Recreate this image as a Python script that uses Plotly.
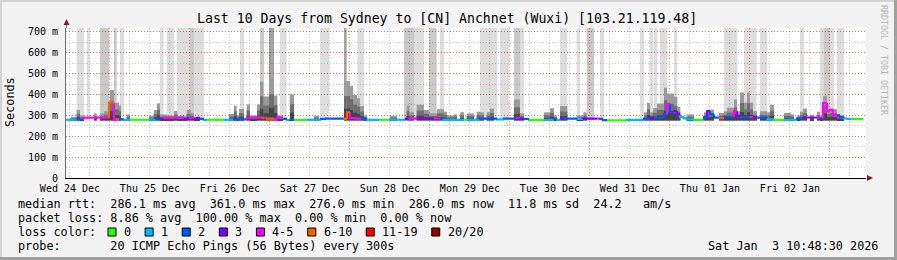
import plotly.graph_objects as go
import pandas as pd

START = pd.Timestamp("2025-12-24 10:48:30")
END = pd.Timestamp("2026-01-03 10:48:30")
Y_MAX = 719
SMOKE_BASE = 276

# ---- data (hours since START) ----
# loss spans drawn as full-height shading: start, end, shade (0 light, 1 mid, 2 dark)
loss_start = [3.2, 6.3, 10.2, 14.4, 16.2, 28.2, 30.2, 33.2, 37.2, 38.4, 52.2, 58.2, 60.9, 64.2, 76.2,
              83.4, 87.4, 101.4, 104.4, 108.9, 112.2, 124.2, 130.2, 134.4, 136.2, 148.2, 153.2, 156.2,
              160.2, 172.2, 175.2, 176.4, 178.2, 182.4, 197.4, 203.4, 208.2, 220.2, 226.2, 227.4,
              229.2, 231.2]
loss_end = [5.4, 7.1, 12.9, 15.2, 17.4, 29.3, 32.4, 37.2, 38.4, 41.4, 53.4, 59.4, 62.4, 66.2, 78.9,
            84.2, 89.4, 104.4, 107.4, 111.2, 113.4, 129.4, 132.9, 136.2, 137.4, 150.4, 154.2, 158.4,
            161.4, 173.4, 176.2, 177.4, 180.4, 183.4, 201.4, 207.2, 210.4, 221.4, 227.4, 229.2,
            230.4, 233.4]
loss_shade = [0, 0, 1, 1, 0, 0, 0, 0, 1, 0, 0, 1, 2, 0, 0,
              2, 0, 1, 0, 1, 0, 0, 0, 1, 0, 0, 0, 1,
              0, 0, 0, 0, 0, 0, 0, 0, 0, 0, 0, 1,
              0, 0]

# smoke columns: start, end, max rtt (ms)
smoke_start = [1.4, 3.2, 4.2, 8.4, 10.2, 11.4, 12.3, 13.1, 14.4, 15.9, 18.2, 24.9, 26.4, 27.3, 28.2,
               29.4, 30.3, 32.4, 33.4, 36.2, 37.4, 38.4, 48.9, 50.4, 51.2, 51.9, 54.2, 55.2, 57.3,
               58.2, 59.2, 60.9, 62.4, 63.4, 67.2, 74.4, 83.4, 84.2, 85.2, 86.1, 87.3, 88.2, 89.4,
               97.2, 102.2, 103.0, 105.2, 107.4, 108.9, 111.3, 113.4, 114.3, 116.4, 118.2, 120.2,
               123.2, 124.2, 126.2, 127.2, 134.4, 136.2, 143.4, 145.2, 146.4, 148.2, 153.2, 155.2,
               173.4, 174.3, 175.2, 176.1, 177.3, 179.4, 180.3, 182.4, 183.4, 186.2, 191.4, 192.3,
               195.9, 197.4, 198.3, 200.4, 201.3, 202.2, 203.4, 204.3, 205.2, 206.1, 208.2, 209.4,
               210.4, 211.2, 215.4, 217.5, 219.3, 220.2, 221.1, 223.2, 225.3, 226.2, 227.1, 228.3,
               229.2, 230.1, 231.3, 232.2]
smoke_end = [3.2, 4.2, 5.4, 9.2, 11.4, 12.3, 13.1, 14.4, 15.9, 16.5, 19.2, 26.4, 27.3, 28.2, 29.4,
             30.3, 32.4, 33.4, 36.2, 37.4, 38.4, 40.2, 50.4, 51.2, 51.9, 53.4, 55.2, 57.3, 58.2,
             59.2, 60.9, 62.4, 63.4, 65.1, 68.4, 75.9, 84.2, 85.2, 86.1, 87.3, 88.2, 89.4, 90.3,
             99.3, 103.0, 104.4, 107.4, 108.9, 111.3, 113.4, 114.3, 116.4, 117.3, 119.4, 122.4,
             124.2, 125.4, 127.2, 128.4, 136.2, 137.4, 145.2, 146.4, 147.3, 150.4, 155.2, 156.2,
             174.3, 175.2, 176.1, 177.3, 179.4, 180.3, 182.4, 183.4, 184.3, 188.4, 192.3, 194.4,
             197.4, 198.3, 200.4, 201.3, 202.2, 203.4, 204.3, 205.2, 206.1, 207.3, 209.4, 210.4,
             211.2, 212.4, 217.5, 218.4, 220.2, 221.1, 222.3, 224.4, 226.2, 227.1, 228.3, 229.2,
             230.1, 231.3, 232.2, 233.4]
smoke_top = [294, 326, 300, 310, 310, 320, 318, 422, 361, 347, 305, 298, 326, 358, 305,
             305, 300, 321, 298, 326, 312, 292, 307, 347, 300, 331, 353, 300, 353,
             462, 391, 479, 395, 300, 401, 298, 465, 465, 441, 398, 382, 345, 300,
             298, 347, 315, 351, 326, 310, 330, 318, 300, 305, 315, 310,
             318, 315, 315, 333, 376, 310, 315, 335, 300, 345, 300, 315,
             315, 361, 315, 335, 357, 433, 405, 389, 341, 305, 315, 328,
             312, 320, 337, 376, 320, 410, 361, 410, 361, 320, 320, 320,
             315, 351, 312, 305, 300, 318, 333, 303, 318, 300, 392, 326,
             333, 330, 305, 300]

# median rtt step line: segment start, median (ms), loss class index
med_start = [0.0, 3.3, 5.4, 12.9, 14.4, 15.3, 15.9, 17.4, 19.2, 24.9, 27.0, 28.2, 29.4, 35.4, 37.2,
             38.4, 39.3, 40.2, 41.4, 42.3, 47.4, 50.4, 54.3, 58.5, 59.4, 60.3, 62.4, 63.3, 65.1,
             66.3, 67.2, 68.4, 72.3, 76.5, 78.0, 83.4, 84.3, 85.2, 87.3, 88.5, 90.3, 93.9, 96.9,
             102.0, 102.9, 105.3, 110.4, 112.2, 113.1, 119.4, 120.3, 124.2, 129.3, 131.4, 135.3,
             136.2, 137.4, 138.9, 143.4, 146.4, 147.3, 148.5, 149.4, 153.3, 155.1, 159.3, 160.2,
             161.1, 162.3, 168.3, 173.4, 175.2, 176.4, 179.4, 180.3, 181.2, 182.4, 183.3, 184.2,
             185.4, 186.3, 188.4, 191.4, 192.3, 193.2, 194.4, 195.9, 197.4, 200.4, 201.3, 202.2,
             205.2, 206.1, 207.3, 210.4, 212.4, 215.4, 219.3, 221.4, 225.3, 226.2, 227.1, 228.3,
             229.2, 230.1, 231.3, 232.2, 233.4, 234.3, 235.5]
med_value = [279, 281, 289, 361, 280, 281, 281, 279, 279, 279, 282, 284, 289, 283, 289,
             283, 288, 283, 279, 279, 279, 281, 289, 289, 289, 285, 281, 289, 283,
             279, 278, 279, 279, 283, 285, 283, 315, 287, 285, 285, 279, 279, 279,
             283, 285, 285, 285, 285, 279, 279, 279, 285, 281, 285, 289,
             283, 283, 279, 279, 281, 279, 283, 285, 283, 285, 285, 283,
             277, 276, 279, 283, 289, 289, 305, 356, 316, 321, 305, 292,
             286, 281, 279, 292, 321, 306, 289, 287, 292, 321, 297, 292,
             292, 292, 289, 281, 279, 279, 286, 290, 290, 286, 359, 321,
             327, 300, 300, 292, 286, 283, 283]
med_loss = [1, 2, 4, 5, 4, 5, 2, 1, 0, 1, 2, 3, 4, 3, 4,
            3, 3, 2, 1, 0, 1, 2, 4, 5, 4, 5, 4, 4, 2,
            1, 2, 0, 1, 2, 2, 5, 5, 4, 4, 2, 1, 0, 1,
            3, 4, 3, 4, 2, 1, 0, 1, 2, 1, 2, 4,
            3, 2, 0, 1, 2, 1, 3, 2, 1, 3, 4, 2,
            2, 0, 1, 2, 3, 2, 2, 4, 2, 3, 3, 1,
            1, 1, 0, 2, 3, 2, 2, 5, 2, 4, 3, 2,
            4, 3, 2, 1, 0, 1, 2, 3, 4, 2, 4, 4,
            4, 4, 3, 2, 1, 1, 0]
med_last_end = 239.2

loss_labels = ["0", "1", "2", "3", "4-5", "6-10", "11-19", "20/20"]
loss_colors = ["#26ff00", "#00b8ff", "#0059ff", "#7e00ff", "#ff00ff", "#ff5e00", "#ff0000", "#990000"]

title_text = "Last 10 Days from Sydney to [CN] Anchnet (Wuxi) [103.21.119.48]"
legend_lines = [
    "median rtt:  286.1 ms avg  361.0 ms max  276.0 ms min  286.0 ms now  11.8 ms sd  24.2   am/s",
    "packet loss: 8.86 % avg  100.00 % max  0.00 % min  0.00 % now",
    "loss color:",
    "probe:       20 ICMP Echo Pings (56 Bytes) every 300s",
]
stamp_text = "Sat Jan  3 10:48:30 2026"
y_ticks = [0, 100, 200, 300, 400, 500, 600, 700]
y_ticktext = ["0"] + [f"{v} m" for v in y_ticks[1:]]

# ---- helpers ----
MONO = "DejaVu Sans Mono"
W, H = 897, 260
L, R, T, B = 66, 31, 28, 82
PW, PH = W - L - R, H - T - B


def t(h):
    return START + pd.Timedelta(hours=h)


def px(xp):
    return (xp - L) / PW


def py(yp):
    return (T + PH - yp) / PH


fig = go.Figure()

# loss shading
shade_cols = ["rgba(0,0,0,0.135)", "rgba(0,0,0,0.21)", "rgba(0,0,0,0.36)"]
for lvl, col in enumerate(shade_cols):
    xs, ws, bs, hs = [], [], [], []
    for s, e, sh in zip(loss_start, loss_end, loss_shade):
        if sh != lvl:
            continue
        xs.append(t((s + e) / 2))
        ws.append((e - s) * 3600 * 1000)
        bs.append(SMOKE_BASE)
        hs.append(Y_MAX - SMOKE_BASE)
    fig.add_trace(go.Bar(x=xs, y=hs, base=bs, width=ws, marker=dict(color=col, line=dict(width=0)),
                         hoverinfo="skip", showlegend=False))

# smoke: layered grays
smoke_layers = [(1.0, "#9a9a9a"), (0.62, "#6e6e6e"), (0.3, "#444444")]
for frac, col in smoke_layers:
    xs = [t((s + e) / 2) for s, e in zip(smoke_start, smoke_end)]
    ws = [(e - s) * 3600 * 1000 for s, e in zip(smoke_start, smoke_end)]
    hs = [(top - SMOKE_BASE) * frac for top in smoke_top]
    fig.add_trace(go.Bar(x=xs, y=hs, base=[SMOKE_BASE] * len(xs), width=ws,
                         marker=dict(color=col, line=dict(width=0)), hoverinfo="skip", showlegend=False))

# median line coloured by loss
med_end = med_start[1:] + [med_last_end]
for cls, col in enumerate(loss_colors):
    xs, ys = [], []
    for i, (s, e, v, c) in enumerate(zip(med_start, med_end, med_value, med_loss)):
        if c != cls:
            continue
        prev = med_value[i - 1] if i > 0 else v
        xs += [t(s), t(s), t(e), None]
        ys += [prev, v, v, None]
    if xs:
        fig.add_trace(go.Scatter(x=xs, y=ys, mode="lines", line=dict(color=col, width=2.2),
                                 hoverinfo="skip", showlegend=False))

fig.update_layout(
    width=W, height=H, margin=dict(l=L, r=R, t=T, b=B, pad=0),
    paper_bgcolor="#f3f3f3", plot_bgcolor="#ffffff",
    barmode="overlay", showlegend=False,
    font=dict(family=MONO, size=10, color="#000000"),
    xaxis=dict(
        type="date", range=[START, END], tick0="2025-12-24 00:00:00", dtick=86400000,
        tickformat="%a %d %b", ticklabelmode="period", ticks="", showgrid=True,
        gridcolor="rgba(255,0,0,0.45)", griddash="1px,2px", gridwidth=1,
        minor=dict(dtick=6 * 3600000, tick0="2025-12-24 00:00:00", showgrid=True,
                   gridcolor="rgba(0,0,0,0.2)", griddash="1px,2px", ticks=""),
        showline=True, linecolor="#000000", linewidth=1, zeroline=False,
        tickfont=dict(family=MONO, size=10), ticklabelstandoff=1, fixedrange=True,
    ),
    yaxis=dict(
        range=[0, Y_MAX], tickvals=y_ticks, ticktext=y_ticktext, ticks="",
        showgrid=True, gridcolor="rgba(255,0,0,0.45)", griddash="1px,2px",
        minor=dict(dtick=50, showgrid=True, gridcolor="rgba(0,0,0,0.2)", griddash="1px,2px", ticks=""),
        showline=True, linecolor="#707070", linewidth=1, zeroline=False,
        tickfont=dict(family=MONO, size=10), ticklabelstandoff=5, fixedrange=True,
    ),
)

ann = []
ann.append(dict(text=title_text, x=px(447), y=py(19), xref="paper", yref="paper", showarrow=False,
                xanchor="center", yanchor="middle", font=dict(family=MONO, size=13.2, color="#000")))
ann.append(dict(text="Seconds", x=px(10), y=py(102), xref="paper", yref="paper", showarrow=False,
                textangle=-90, xanchor="center", yanchor="middle", font=dict(family=MONO, size=11.8)))
ann.append(dict(text="RRDTOOL / TOBI OETIKER", x=px(884), y=py(60), xref="paper", yref="paper",
                showarrow=False, textangle=90, xanchor="center", yanchor="middle",
                font=dict(family=MONO, size=8.3, color="#b5b5b5")))
for i, line in enumerate(legend_lines):
    ann.append(dict(text=line.replace(" ", "&nbsp;"), x=px(16), y=py(204 + 14 * i), xref="paper",
                    yref="paper", showarrow=False, xanchor="left", yanchor="middle",
                    font=dict(family=MONO, size=11.8)))
ann.append(dict(text=stamp_text.replace(" ", "&nbsp;"), x=px(880), y=py(246), xref="paper", yref="paper",
                showarrow=False, xanchor="right", yanchor="middle", font=dict(family=MONO, size=11.8)))

shapes = []
bx = 108.0
for lab, col in zip(loss_labels, loss_colors):
    shapes.append(dict(type="rect", xref="paper", yref="paper", x0=px(bx), x1=px(bx + 8),
                       y0=py(236), y1=py(228), fillcolor=col, line=dict(color="#000", width=1)))
    ann.append(dict(text=lab, x=px(bx + 14), y=py(232), xref="paper", yref="paper", showarrow=False,
                    xanchor="left", yanchor="middle", font=dict(family=MONO, size=11.8)))
    bx += len(lab) * 7.11 + 30

# axis extensions and arrows
shapes.append(dict(type="line", xref="paper", yref="paper", x0=px(66.5), x1=px(66.5), y0=py(28), y1=py(24),
                   line=dict(color="#707070", width=1)))
shapes.append(dict(type="path", xref="paper", yref="paper",
                   path=f"M {px(63.5)} {py(25)} L {px(69.5)} {py(25)} L {px(66.5)} {py(19)} Z",
                   fillcolor="#8b1a1a", line=dict(width=0)))
shapes.append(dict(type="path", xref="paper", yref="paper",
                   path=f"M {px(867)} {py(175)} L {px(867)} {py(181)} L {px(873)} {py(178)} Z",
                   fillcolor="#8b1a1a", line=dict(width=0)))
# frame
shapes.append(dict(type="line", xref="paper", yref="paper", x0=px(0), x1=px(W), y0=py(1), y1=py(1),
                   line=dict(color="#d2d2d2", width=2)))
shapes.append(dict(type="line", xref="paper", yref="paper", x0=px(1), x1=px(1), y0=py(0), y1=py(H),
                   line=dict(color="#d2d2d2", width=2)))
shapes.append(dict(type="line", xref="paper", yref="paper", x0=px(0), x1=px(W), y0=py(H - 1.5), y1=py(H - 1.5),
                   line=dict(color="#a0a0a0", width=3)))
shapes.append(dict(type="line", xref="paper", yref="paper", x0=px(W - 1.5), x1=px(W - 1.5), y0=py(0), y1=py(H),
                   line=dict(color="#a0a0a0", width=3)))

fig.update_layout(annotations=ann, shapes=shapes)
fig.write_html("out.html")
